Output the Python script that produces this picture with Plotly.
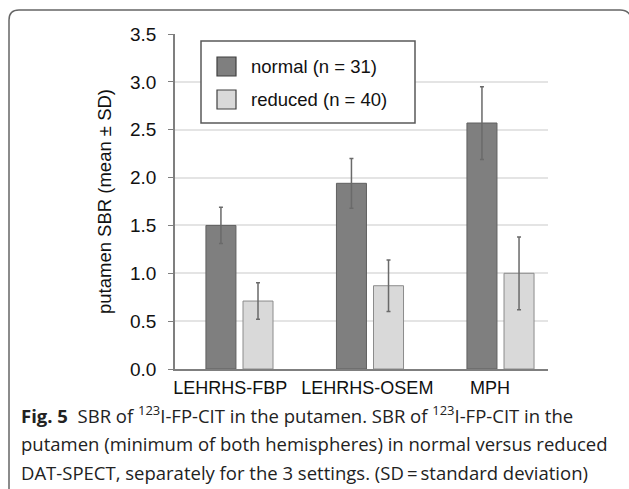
import plotly.graph_objects as go

categories = ["LEHRHS-FBP", "LEHRHS-OSEM", "MPH"]
normal_mean = [1.50, 1.94, 2.57]
normal_sd = [0.19, 0.26, 0.38]
reduced_mean = [0.71, 0.87, 1.00]
reduced_sd = [0.19, 0.27, 0.38]
legend_labels = ["normal (n = 31)", "reduced (n = 40)"]
y_ticks = [0.0, 0.5, 1.0, 1.5, 2.0, 2.5, 3.0, 3.5]

COL_N, EDGE_N = "#7f7f7f", "#606060"
COL_R, EDGE_R = "#d9d9d9", "#8c8c8c"
FONT = "Liberation Sans, Arial, sans-serif"
CAP_FONT = "Open Sans, Noto Sans, sans-serif"

W, H = 629, 489
ML, MR, MT, MB = 175, 81, 34, 120
PW, PH = W - ML - MR, H - MT - MB


def px(x):
    return (x - ML) / PW


def py(y):
    return (H - MB - y) / PH


xpos = list(range(len(categories)))
label_shift = [-0.07, -0.02, -0.08]

fig = go.Figure()
fig.add_trace(go.Bar(
    x=xpos, y=normal_mean, name=legend_labels[0], showlegend=False,
    width=0.23, offset=-0.257,
    marker=dict(color=COL_N, line=dict(color=EDGE_N, width=1)),
    error_y=dict(type="data", array=normal_sd, color="#6a6a6a", thickness=1.5, width=2),
))
fig.add_trace(go.Bar(
    x=xpos, y=reduced_mean, name=legend_labels[1], showlegend=False,
    width=0.23, offset=0.027,
    marker=dict(color=COL_R, line=dict(color=EDGE_R, width=1)),
    error_y=dict(type="data", array=reduced_sd, color="#6a6a6a", thickness=1.5, width=2),
))

caption_lines = [
    "<b>Fig. 5</b>  SBR of <sup>123</sup>I-FP-CIT in the putamen. SBR of <sup>123</sup>I-FP-CIT in the",
    "putamen (minimum of both hemispheres) in normal versus reduced",
    "DAT-SPECT, separately for the 3 settings. (SD\u2009=\u2009standard deviation)",
]
caption_y = [414, 443, 472]

annotations = []
for line, yc in zip(caption_lines, caption_y):
    annotations.append(dict(
        xref="paper", yref="paper", x=px(19), y=py(yc), xanchor="left", yanchor="middle",
        align="left", showarrow=False, text=line,
        font=dict(family=CAP_FONT, size=18.5, color="#222222"),
    ))

# custom legend (box, swatches, labels)
shapes = [
    dict(type="rect", xref="paper", yref="paper", x0=px(201), x1=px(415), y0=py(41), y1=py(123),
         line=dict(color="#595959", width=1.5), fillcolor="white", layer="above"),
]
for (y0, y1), col, edge, lab in zip([(57, 76), (90, 109)], [COL_N, COL_R], [EDGE_N, EDGE_R], legend_labels):
    shapes.append(dict(type="rect", xref="paper", yref="paper", x0=px(217), x1=px(236), y0=py(y0), y1=py(y1),
                       line=dict(color="#404040", width=1.2), fillcolor=col, layer="above"))
    annotations.append(dict(
        xref="paper", yref="paper", x=px(249), y=py((y0 + y1) / 2), xanchor="left", yanchor="middle",
        showarrow=False, text=lab, font=dict(family=FONT, size=18.5, color="#111111"),
    ))

# rounded frame
x_l, y_t, r = 9, 10, 10
frame = (f"M {px(x_l)} {py(H + 2)} L {px(x_l)} {py(y_t + r)} "
         f"Q {px(x_l)} {py(y_t)} {px(x_l + r)} {py(y_t)} "
         f"L {px(620)} {py(y_t)} Q {px(627)} {py(y_t)} {px(630)} {py(y_t + 5)}")
shapes.append(dict(type="path", xref="paper", yref="paper", path=frame,
                   line=dict(color="#666666", width=1.5)))

fig.update_layout(
    width=W, height=H,
    margin=dict(l=ML, r=MR, t=MT, b=MB),
    paper_bgcolor="white", plot_bgcolor="white",
    font=dict(family=FONT, size=19, color="#111111"),
    showlegend=False,
    xaxis=dict(
        range=[-0.494, 2.364],
        tickmode="array", tickvals=[x + s for x, s in zip(xpos, label_shift)], ticktext=categories,
        showgrid=False, zeroline=False, showline=True, linecolor="#7f7f7f", linewidth=1.5,
        ticks="", tickangle=0, ticklabelstandoff=2, tickfont=dict(family=FONT, size=18, color="#111111"),
    ),
    yaxis=dict(
        range=[0, 3.5], tickmode="array", tickvals=y_ticks,
        ticktext=[f"{v:.1f}" for v in y_ticks],
        showgrid=True, gridcolor="#e4e4e4", gridwidth=1.5,
        zeroline=False, showline=True, linecolor="#7f7f7f", linewidth=1.5,
        ticks="outside", ticklen=5, tickcolor="#7f7f7f", ticklabelstandoff=8,
        tickfont=dict(family=FONT, size=19, color="#111111"),
        title=dict(text="putamen SBR (mean \u00b1 SD)", font=dict(family=FONT, size=18.5, color="#111111"),
                   standoff=14),
    ),
    annotations=annotations,
    shapes=shapes,
)

fig.write_html("out.html")
